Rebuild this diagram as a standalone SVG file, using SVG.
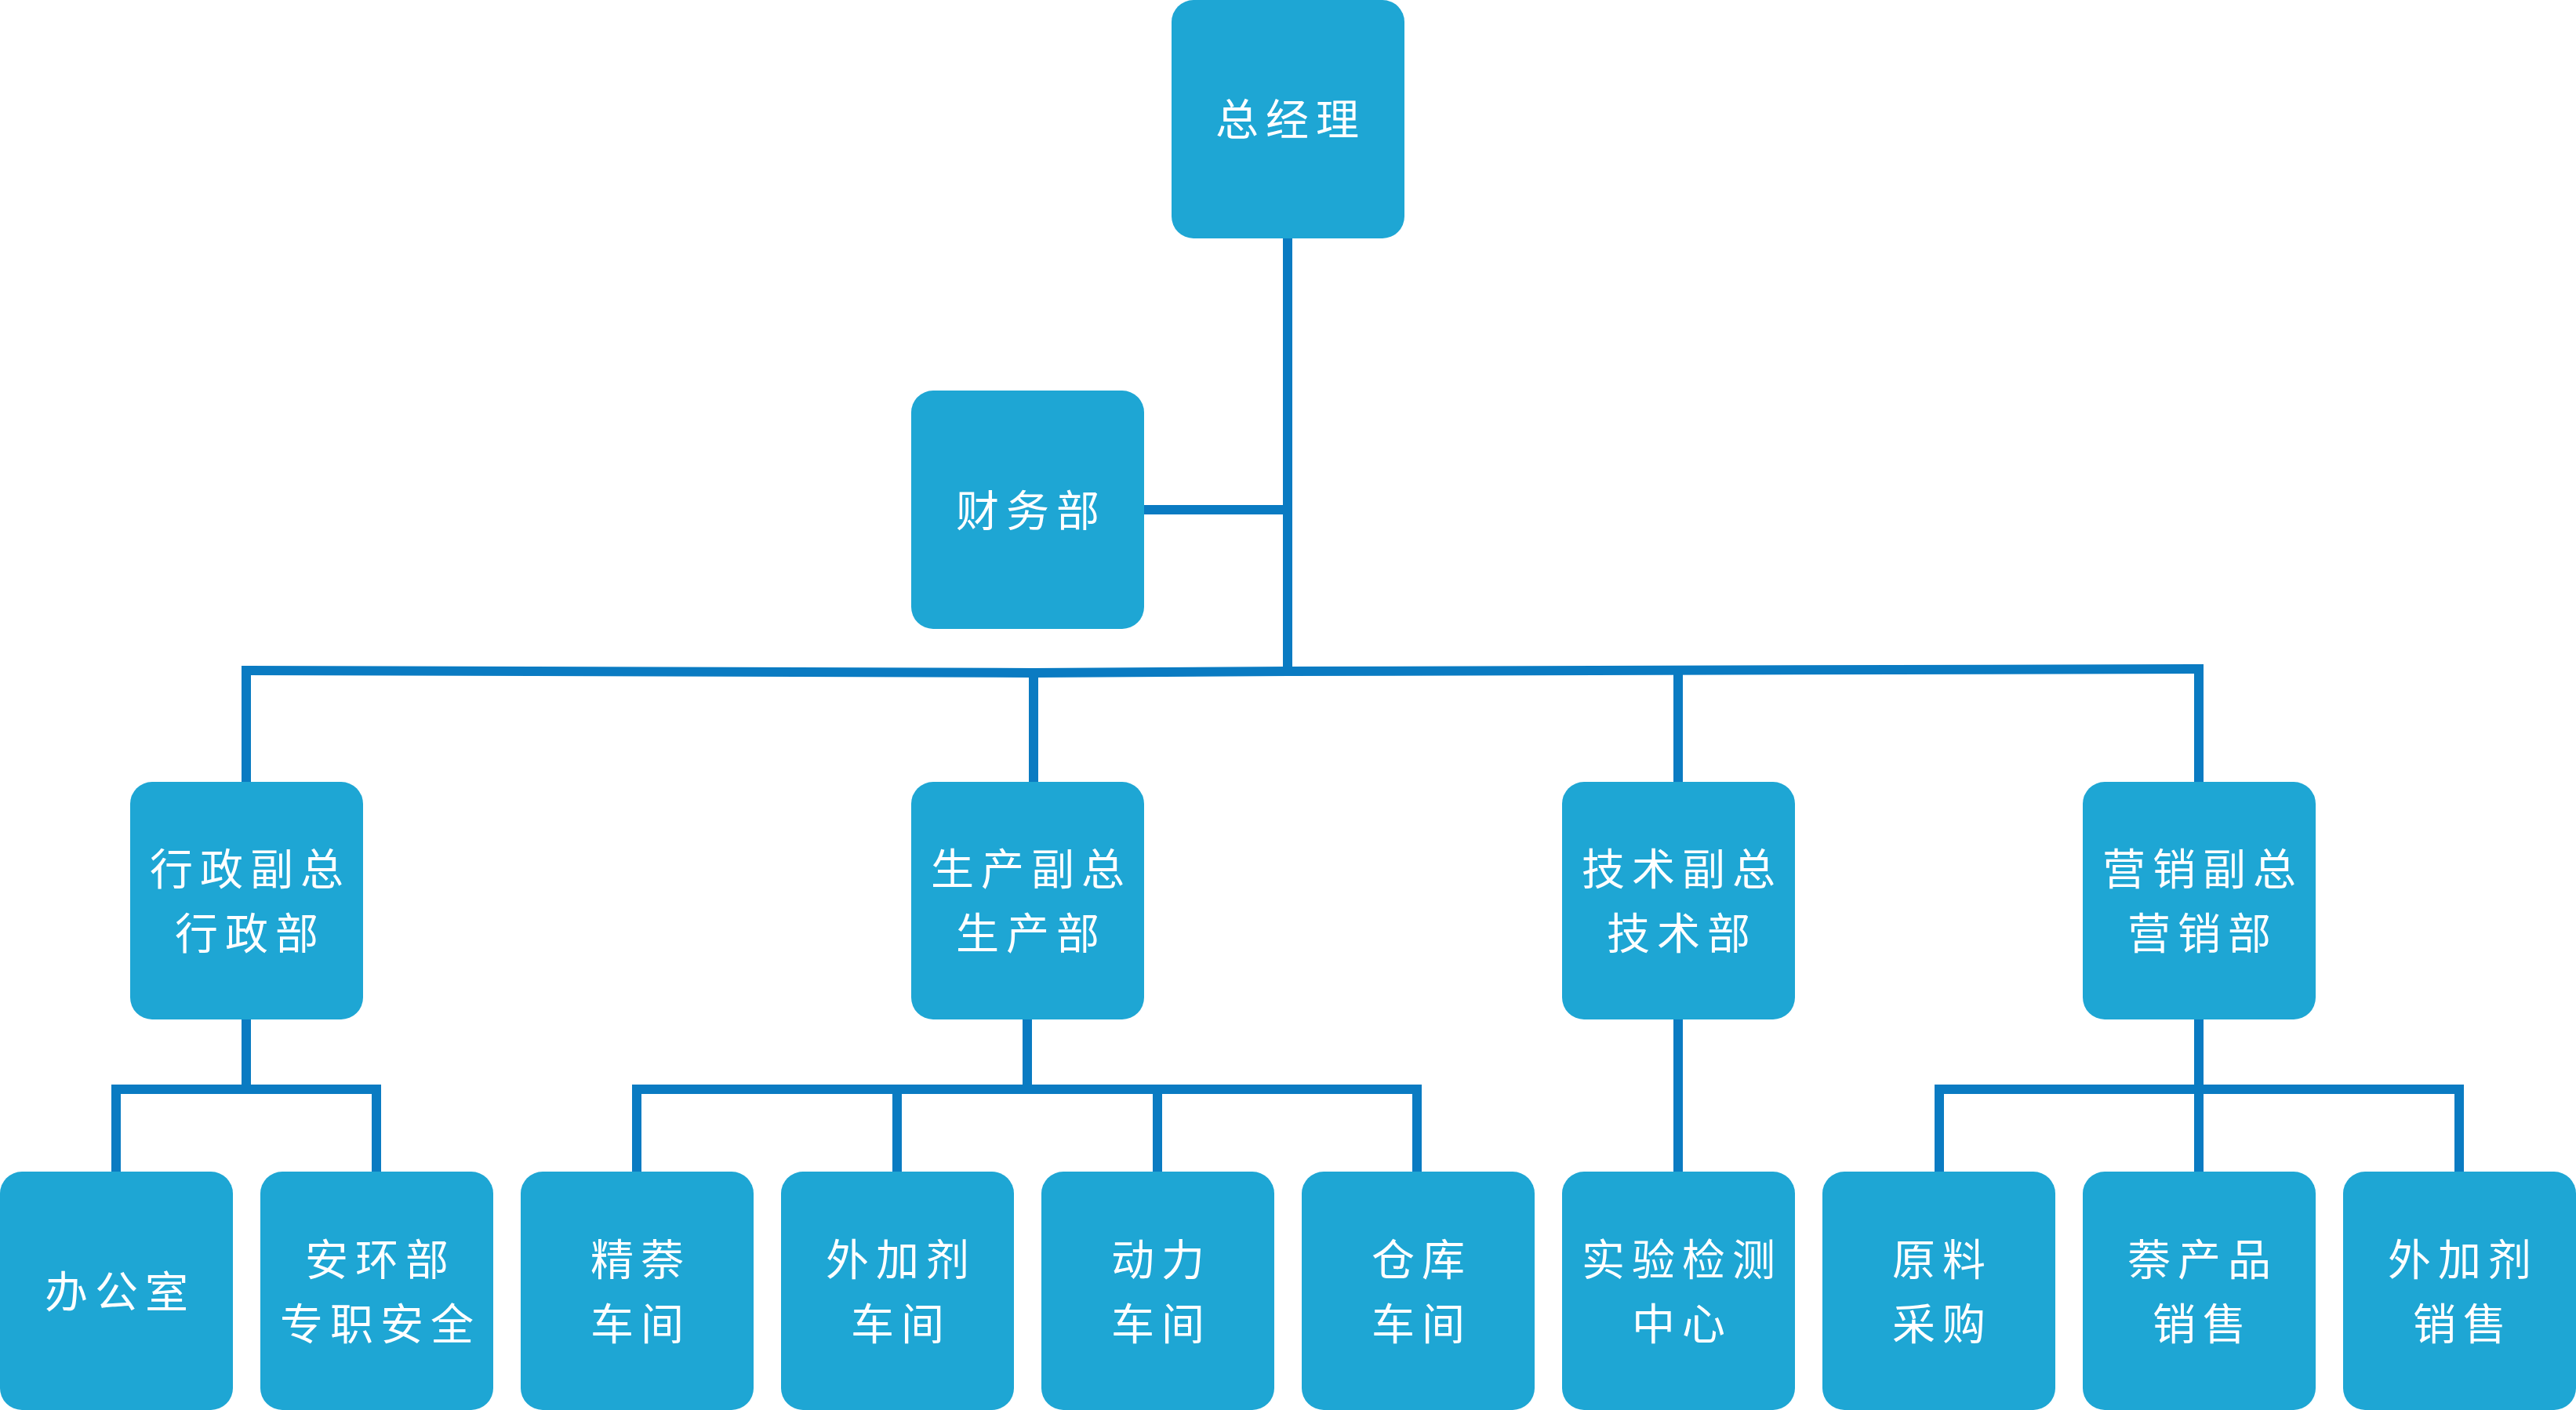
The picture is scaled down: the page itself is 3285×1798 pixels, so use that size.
<svg xmlns="http://www.w3.org/2000/svg" width="3285" height="1798" viewBox="0 0 3285 1798">
<style>
.box{fill:#1EA6D4;}
.t{fill:#FFFFFF;font-family:"Noto Sans CJK SC","Noto Sans",sans-serif;font-size:55px;letter-spacing:9px;text-anchor:middle;dominant-baseline:central;}
.c{fill:none;stroke:#0A7BC2;stroke-width:12;stroke-linejoin:miter;stroke-linecap:butt;}
</style>
<rect width="3285" height="1798" fill="#FFFFFF"/>
<g id="connectors">
<path class="c" d="M1642 304 V856"/>
<path class="c" d="M1459 650 H1642"/>
<path class="c" d="M314 855 L1318 858 L1642 856 L2804 853"/>
<path class="c" d="M314 849 V997"/>
<path class="c" d="M1318 852 V997"/>
<path class="c" d="M2140 850 V997"/>
<path class="c" d="M2804 847 V997"/>
<path class="c" d="M314 1299 V1389"/>
<path class="c" d="M148 1494 V1389 H480 V1494"/>
<path class="c" d="M1310 1299 V1389"/>
<path class="c" d="M812 1494 V1389 H1807 V1494"/>
<path class="c" d="M1144 1389 V1494"/>
<path class="c" d="M1476 1389 V1494"/>
<path class="c" d="M2140 1299 V1494"/>
<path class="c" d="M2804 1299 V1494"/>
<path class="c" d="M2473 1494 V1389 H3136 V1494"/>
</g>
<g id="n-ceo"><rect class="box" x="1494" y="0" width="297" height="304" rx="28"/><text class="t" x="1646" y="148">总经理</text></g>
<g id="n-finance"><rect class="box" x="1162" y="498" width="297" height="304" rx="28"/><text class="t" x="1315" y="647">财务部</text></g>
<g id="n-admin"><rect class="box" x="166" y="997" width="297" height="303" rx="28"/><text class="t" x="319" y="1104">行政副总</text><text class="t" x="319" y="1186">行政部</text></g>
<g id="n-prod"><rect class="box" x="1162" y="997" width="297" height="303" rx="28"/><text class="t" x="1315" y="1104">生产副总</text><text class="t" x="1315" y="1186">生产部</text></g>
<g id="n-tech"><rect class="box" x="1992" y="997" width="297" height="303" rx="28"/><text class="t" x="2145" y="1104">技术副总</text><text class="t" x="2145" y="1186">技术部</text></g>
<g id="n-sales"><rect class="box" x="2656" y="997" width="297" height="303" rx="28"/><text class="t" x="2809" y="1104">营销副总</text><text class="t" x="2809" y="1186">营销部</text></g>
<g id="n-office"><rect class="box" x="0" y="1494" width="297" height="304" rx="28"/><text class="t" x="153" y="1643">办公室</text></g>
<g id="n-safety"><rect class="box" x="332" y="1494" width="297" height="304" rx="28"/><text class="t" x="485" y="1602">安环部</text><text class="t" x="485" y="1684">专职安全</text></g>
<g id="n-naph"><rect class="box" x="664" y="1494" width="297" height="304" rx="28"/><text class="t" x="817" y="1602">精萘</text><text class="t" x="817" y="1684">车间</text></g>
<g id="n-additive"><rect class="box" x="996" y="1494" width="297" height="304" rx="28"/><text class="t" x="1149" y="1602">外加剂</text><text class="t" x="1149" y="1684">车间</text></g>
<g id="n-power"><rect class="box" x="1328" y="1494" width="297" height="304" rx="28"/><text class="t" x="1481" y="1602">动力</text><text class="t" x="1481" y="1684">车间</text></g>
<g id="n-store"><rect class="box" x="1660" y="1494" width="297" height="304" rx="28"/><text class="t" x="1813" y="1602">仓库</text><text class="t" x="1813" y="1684">车间</text></g>
<g id="n-lab"><rect class="box" x="1992" y="1494" width="297" height="304" rx="28"/><text class="t" x="2145" y="1602">实验检测</text><text class="t" x="2145" y="1684">中心</text></g>
<g id="n-purchase"><rect class="box" x="2324" y="1494" width="297" height="304" rx="28"/><text class="t" x="2477" y="1602">原料</text><text class="t" x="2477" y="1684">采购</text></g>
<g id="n-naphsales"><rect class="box" x="2656" y="1494" width="297" height="304" rx="28"/><text class="t" x="2809" y="1602">萘产品</text><text class="t" x="2809" y="1684">销售</text></g>
<g id="n-addsales"><rect class="box" x="2988" y="1494" width="297" height="304" rx="28"/><text class="t" x="3141" y="1602">外加剂</text><text class="t" x="3141" y="1684">销售</text></g>
</svg>
